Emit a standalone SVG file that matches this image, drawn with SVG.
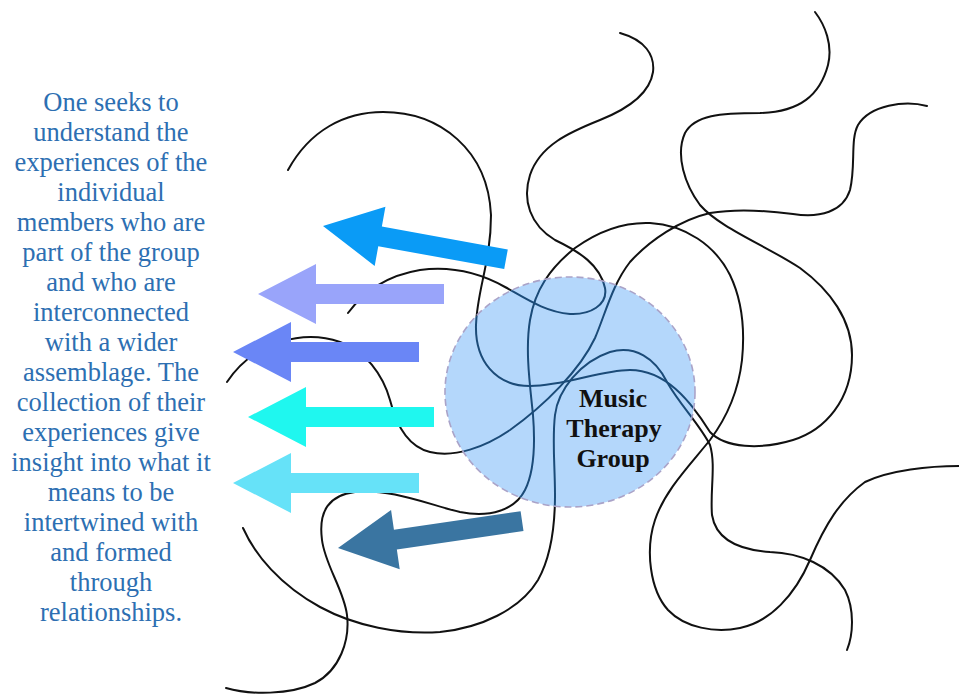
<svg xmlns="http://www.w3.org/2000/svg" xmlns:xlink="http://www.w3.org/1999/xlink" width="959" height="697" viewBox="0 0 959 697">
<style>
.curve{fill:none;stroke-width:2;stroke-linecap:round;stroke-linejoin:round}
.side{font-family:"Liberation Serif","Times New Roman",serif;font-size:26.5px;fill:#2d6fb2;text-anchor:middle}
.label{font-family:"Liberation Serif","Times New Roman",serif;font-size:26px;font-weight:bold;fill:#111;text-anchor:middle}
</style>
<defs>
<clipPath id="inCircle"><ellipse cx="570" cy="392" rx="125" ry="115"/></clipPath>
<polygon id="arrow" points="0,0 58,-30 58,-10 186,-10 186,10 58,10 58,30"/>
<g id="curvePaths" class="curve">
<path id="c1" d="M288,170 C310,130 345,112 383,112 C440,112 488,150 491,215 C491,262 477,290 476,325 C475,360 495,386 530,386 C565,386 600,370 630,370 C665,370 690,400 710,432 C725,448 760,450 793,440 C825,430 852,400 852,355 C852,320 830,290 800,268 C765,245 720,228 700,205 C685,185 675,155 685,133 C695,115 720,113 760,113 C800,112 820,95 828,65 C833,45 825,25 815,12"/>
<path id="cW" d="M927,106 C905,100 870,105 858,125 C850,140 856,165 850,190 C843,212 820,218 793,214 C770,211 740,208 710,213 C680,220 650,240 630,262 C612,285 605,315 595,338 C580,370 545,405 510,430 C485,447 455,458 430,452 C405,446 395,420 390,400 C383,375 365,350 340,342 C305,330 255,340 227,382"/>
<path id="cX" d="M226,688 C250,695 290,695 315,683 C340,670 350,640 347,615 C344,590 325,565 322,540 C318,510 330,495 355,492 C390,488 430,505 460,512 C490,518 515,510 525,490 C535,470 535,440 533,415 C530,385 525,350 530,320 C535,290 550,268 575,248 C600,230 625,222 650,223 C685,225 715,245 730,275 C742,300 745,330 742,360 C738,395 725,420 710,440 C690,465 665,490 655,520 C645,550 650,590 668,610 C685,628 715,633 740,628 C770,622 795,595 810,560 C825,525 840,500 865,482 C890,470 930,466 959,466"/>
<path id="cY" d="M243,528 C255,555 280,585 320,607 C355,626 400,635 440,632 C480,628 520,610 538,580 C552,555 555,525 555,495 C555,465 552,440 555,415 C558,390 580,362 610,352 C635,345 655,358 667,382 C680,405 700,425 710,445 C716,465 710,490 712,515 C716,540 740,550 770,552 C800,553 830,565 845,590 C855,610 853,635 847,650"/>
<path id="cZ" d="M620,33 C645,40 655,55 653,72 C650,92 630,108 600,120 C570,132 540,145 530,175 C522,200 530,225 555,240 C580,252 600,265 605,288 C608,305 590,315 570,314 C545,312 525,298 505,287 C480,273 450,266 420,270 C390,275 365,290 348,313"/>
</g>
</defs>
<rect width="959" height="697" fill="#fff"/>
<g id="connectors">
<use xlink:href="#curvePaths" href="#curvePaths" stroke="#111"/>
</g>
<g id="music-therapy-group">
<ellipse cx="570" cy="392" rx="125" ry="115" fill="#b4d7fb"/>
<use xlink:href="#curvePaths" href="#curvePaths" stroke="#1b4b78" clip-path="url(#inCircle)"/>
<ellipse cx="570" cy="392" rx="125" ry="115" fill="none" stroke="#aaa3c8" stroke-width="1.6" stroke-dasharray="7 4"/>
<text class="label" x="613" y="407">Music</text>
<text class="label" x="614" y="437">Therapy</text>
<text class="label" x="613" y="467">Group</text>
</g>
<g id="arrows">
<use xlink:href="#arrow" href="#arrow" fill="#0a9bf6" transform="translate(323,226) rotate(10.3)"/>
<use xlink:href="#arrow" href="#arrow" fill="#99a4fa" transform="translate(258,294)"/>
<use xlink:href="#arrow" href="#arrow" fill="#6a86f6" transform="translate(233,352)"/>
<use xlink:href="#arrow" href="#arrow" fill="#1ff7ef" transform="translate(248,417)"/>
<use xlink:href="#arrow" href="#arrow" fill="#66e2f8" transform="translate(233,483)"/>
<use xlink:href="#arrow" href="#arrow" fill="#3a75a1" transform="translate(338,548) rotate(-8.3)"/>
</g>
<g id="description">
<text class="side" x="111" y="111">One seeks to</text>
<text class="side" x="111" y="141">understand the</text>
<text class="side" x="111" y="171">experiences of the</text>
<text class="side" x="111" y="201">individual</text>
<text class="side" x="111" y="231">members who are</text>
<text class="side" x="111" y="261">part of the group</text>
<text class="side" x="111" y="291">and who are</text>
<text class="side" x="111" y="321">interconnected</text>
<text class="side" x="111" y="351">with a wider</text>
<text class="side" x="111" y="381">assemblage. The</text>
<text class="side" x="111" y="411">collection of their</text>
<text class="side" x="111" y="441">experiences give</text>
<text class="side" x="111" y="471">insight into what it</text>
<text class="side" x="111" y="501">means to be</text>
<text class="side" x="111" y="531">intertwined with</text>
<text class="side" x="111" y="561">and formed</text>
<text class="side" x="111" y="591">through</text>
<text class="side" x="111" y="621">relationships.</text>
</g>
</svg>
